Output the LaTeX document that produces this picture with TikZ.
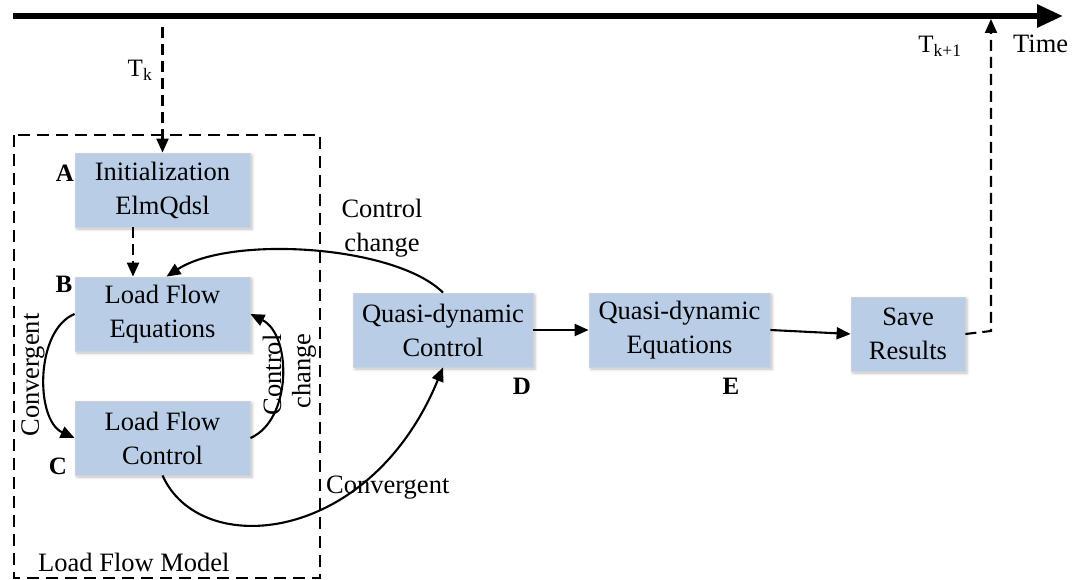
\documentclass[tikz,border=0pt]{standalone}
\usepackage{fontspec}
\setmainfont{Liberation Serif}
\usetikzlibrary{arrows.meta,shadows.blur}
\definecolor{boxblue}{RGB}{185,205,230}
\definecolor{boxedge}{RGB}{205,210,218}
\tikzset{
  txt/.style={font=\fontsize{26.5}{34}\selectfont, inner sep=0pt, align=center},
  blk/.style={txt, draw=boxedge, line width=0.8pt, fill=boxblue,
    minimum height=74pt,
    blur shadow={shadow xshift=2pt, shadow yshift=-2pt, shadow blur radius=3pt, shadow opacity=25}},
  tag/.style={font=\fontsize{25}{28}\selectfont\bfseries, inner sep=0pt},
  flow/.style={line width=2.1pt, -{Triangle[length=14pt,width=12pt]}},
  dflow/.style={flow, dash pattern=on 11pt off 6pt},
  frame/.style={line width=2.1pt, dash pattern=on 12pt off 7pt},
  subs/.style={font=\fontsize{25}{28}\selectfont, inner sep=0pt}
}
\begin{document}
\begin{tikzpicture}[x=1pt,y=-1pt]
\useasboundingbox (0,0) rectangle (1072,580);

% time axis
\coordinate (t0) at (13,16);
\coordinate (t1) at (1063,16);
\draw[line width=6pt, -{Triangle[length=26pt,width=22pt]}] (t0) -- (t1);
\node[txt, anchor=west] (time) at (1013,44) {Time};
\node[subs] (tk) at (140,70) {T\textsubscript{k}};
\node[subs] (tk1) at (940,46) {T\textsubscript{k+1}};

% load flow model frame
\draw[frame] (14,135) rectangle (320,578);
\node[txt, anchor=west] (lfm) at (38,562) {Load Flow Model};

% blocks
\node[blk, minimum width=175pt] (A) at (162.5,190) {Initialization\\ElmQdsl};
\node[blk, minimum width=175pt] (B) at (162.5,314) {Load Flow\\Equations};
\node[blk, minimum width=175pt] (C) at (162.5,438) {Load Flow\\Control};
\node[blk, minimum width=180pt] (D) at (443,330) {Quasi-dynamic\\Control};
\node[blk, minimum width=181pt] (E) at (679.5,330) {Quasi-dynamic\\Equations};
\node[blk, minimum width=114pt] (S) at (908,334) {Save\\Results};

% block letters
\node[tag] (la) at (65,173) {A};
\node[tag] (lb) at (64,284) {B};
\node[tag] (lc) at (58,466) {C};
\node[tag] (ld) at (522,386) {D};
\node[tag] (le) at (731,386) {E};

% time step links
\coordinate (tkin) at (162.5,27);
\draw[dflow] (tkin) -- (A.north);
\draw[dflow] ([xshift=-29.5pt]A.south) -- ([xshift=-29.5pt]B.north);
\coordinate (sv) at (991,331);
\coordinate (tkout) at (991,19);
\draw[dflow] (S.east) -- (sv) -- (tkout);

% forward chain
\draw[flow] (D.east) -- (E.west);
\draw[flow] (E.east) -- (S.west);

% iteration loops
\draw[flow] (B.west) .. controls (35,330) and (35,420) .. (C.west);
\draw[flow] (C.east) .. controls (292,420) and (292,335) .. (B.east);
\draw[flow] (D.north) .. controls (395,245) and (230,235) .. ([xshift=4pt]B.north);
\draw[flow] (C.south) .. controls (200,560) and (370,545) .. (D.south);

% loop labels
\node[txt] (cc) at (382,228) {Control\\change};
\node[txt, anchor=west] (cv) at (326,488) {Convergent};
\node[txt, rotate=90] (cvl) at (33,375) {Convergent};
\node[txt, rotate=90] (ctl) at (272,375) {Control};
\node[txt, rotate=90] (chg) at (304,371) {change};
\end{tikzpicture}
\end{document}
